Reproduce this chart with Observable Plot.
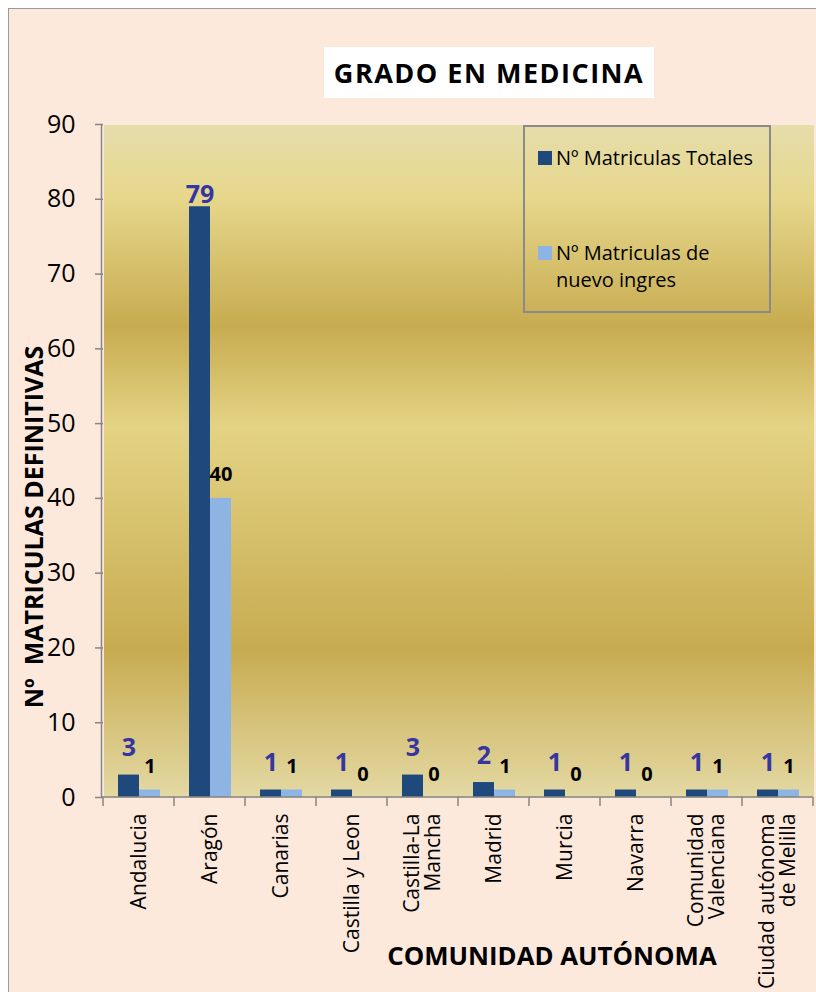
<!DOCTYPE html>
<html>
<head>
<meta charset="utf-8">
<script src="https://cdn.jsdelivr.net/npm/d3@7"></script>
<script src="https://cdn.jsdelivr.net/npm/@observablehq/plot@0.6"></script>
<style>
  html, body { margin: 0; padding: 0; background: #ffffff; overflow: hidden; width: 816px; height: 992px; }
  #frame { position: absolute; left: 8px; top: 8px; width: 808px; height: 984px; box-sizing: border-box;
           background: #fde9dc; border-left: 1.5px solid #9a9a9a; border-top: 1.5px solid #9a9a9a; }
  #chart { position: absolute; left: 0; top: 0; }
  .ov { position: absolute; font-family: "Open Sans", sans-serif; color: #000; white-space: pre; }
  #title { left: 324px; top: 47px; width: 330px; height: 51px; background: #fff; text-align: center;
           font-weight: bold; font-size: 27px; letter-spacing: 1.5px; line-height: 51px; }
  #ylabel { left: 33px; top: 527px; transform: translate(-50%, -50%) rotate(-90deg);
            font-weight: bold; font-size: 25px; line-height: 34px; }
  #xlabel { left: 552px; top: 938px; transform: translateX(-50%); font-weight: bold; font-size: 25.8px; line-height: 35px; }
  #legend { left: 523px; top: 125px; width: 248px; height: 188px; box-sizing: border-box; border: 2px solid #8a8a8a; }
  #legend .sw { position: absolute; width: 14px; height: 14px; }
  #legend .lt { position: absolute; left: 31px; font-size: 20px; line-height: 27px; font-family: "Open Sans", sans-serif; white-space: pre; }
</style>
</head>
<body>
<div id="frame"></div>
<div id="chart"></div>
<div class="ov" id="title"></div>
<div class="ov" id="ylabel"></div>
<div class="ov" id="xlabel"></div>
<div class="ov" id="legend"></div>
<script>
// ---- Data ----
const categories = ["Andalucia", "Aragón", "Canarias", "Castilla y Leon", "Castilla-La Mancha",
  "Madrid", "Murcia", "Navarra", "Comunidad Valenciana", "Ciudad autónoma de Melilla"];
const tickLabels = ["Andalucia", "Aragón", "Canarias", "Castilla y Leon", "Castilla-La\nMancha",
  "Madrid", "Murcia", "Navarra", "Comunidad\nValenciana", "Ciudad autónoma\nde Melilla"];
const totales = [3, 79, 1, 1, 3, 2, 1, 1, 1, 1];
const nuevos = [1, 40, 1, 0, 0, 1, 0, 0, 1, 1];
const series = ["Nº Matriculas Totales", "Nº Matriculas de nuevo ingres"];
const legendLabels = ["Nº Matriculas Totales", "Nº Matriculas de\nnuevo ingres"];
const seriesColors = ["#1f497d", "#8db4e2"];
const yTicks = [0, 10, 20, 30, 40, 50, 60, 70, 80, 90];
const title = "GRADO EN MEDICINA";
const yTitle = "Nº  MATRICULAS DEFINITIVAS";
const xTitle = "COMUNIDAD AUTÓNOMA";

// ---- Table ----
const rows = categories.flatMap((c, i) => [
  {cat: c, serie: series[0], value: totales[i]},
  {cat: c, serie: series[1], value: nuevos[i]}
]);

const axisGrey = "#868686";

const chart = Plot.plot({
  width: 816,
  height: 992,
  marginLeft: 102,
  marginRight: 2,
  marginTop: 124,
  marginBottom: 195,
  style: {background: "transparent", fontFamily: "Open Sans, sans-serif", overflow: "visible", color: "#000"},
  fx: {domain: categories, padding: 0, label: null},
  x: {domain: series, paddingInner: 0, paddingOuter: 0.69, axis: null},
  y: {domain: [0, 90], nice: false, label: null},
  color: {domain: series, range: seriesColors},
  marks: [
    Plot.frame({fill: "url(#bgGrad)", stroke: "none", shapeRendering: "crispEdges"}),
    Plot.barY(rows, {fx: "cat", x: "serie", y: "value", fill: "serie"}),
    Plot.text(rows.filter(d => d.serie === series[0] && d.value < 50), {
      fx: "cat", x: "serie", y: "value", text: d => String(d.value),
      lineAnchor: "bottom", dy: -19, fill: "#3636a2", fontWeight: "bold", fontSize: 25
    }),
    Plot.text(rows.filter(d => d.serie === series[0] && d.value >= 50), {
      fx: "cat", x: "serie", y: "value", text: d => String(d.value),
      lineAnchor: "bottom", dy: -4, fill: "#3636a2", fontWeight: "bold", fontSize: 25
    }),
    Plot.text(rows.filter(d => d.serie === series[1]), {
      fx: "cat", x: "serie", y: "value", text: d => String(d.value),
      lineAnchor: "bottom", dy: -17, fill: "#000", fontWeight: "bold", fontSize: 20
    }),
    Plot.axisY({ticks: yTicks, tickSize: 8, tickPadding: 20, fontSize: 25, label: null,
      stroke: axisGrey, strokeWidth: 1.5, fill: "#000"}),
    Plot.axisFx({anchor: "bottom", tickRotate: -90, tickSize: 0, tickPadding: 16, fontSize: 21, label: null,
      fill: "#000", tickFormat: d => tickLabels[categories.indexOf(d)]})
  ]
});

document.getElementById("chart").appendChild(chart);

// gradient definition used by the frame fill
const svg = d3.select(chart);
const defs = svg.insert("defs", ":first-child");
const grad = defs.append("linearGradient").attr("id", "bgGrad")
  .attr("x1", 0).attr("y1", 0).attr("x2", 0).attr("y2", 1);
[[0, "#e6ddab"], [0.11, "#e6d78b"], [0.30, "#c7ab50"], [0.45, "#e4d384"], [0.78, "#c7ab50"], [1, "#e4d9a4"]]
  .forEach(([o, c]) => grad.append("stop").attr("offset", o).attr("stop-color", c));

// axis lines and category-boundary ticks, from the chart's own scales
const fx = chart.scale("fx");
const ys = chart.scale("y");
const y0 = ys.apply(0), yTop = ys.apply(90);
const edges = categories.map(c => fx.apply(c));
edges.push(fx.apply(categories[categories.length - 1]) + fx.bandwidth);
const g = svg.append("g").attr("stroke", axisGrey).attr("stroke-width", 1.5);
g.append("line").attr("x1", edges[0] - 1.5).attr("x2", edges[0] - 1.5).attr("y1", yTop).attr("y2", y0 + 0.75);
g.append("line").attr("x1", edges[0] - 1.5).attr("x2", edges[edges.length - 1]).attr("y1", y0).attr("y2", y0);
edges.forEach(e => g.append("line").attr("x1", e).attr("x2", e).attr("y1", y0).attr("y2", y0 + 9));

// overlays
document.getElementById("title").textContent = title;
document.getElementById("ylabel").textContent = yTitle;
document.getElementById("xlabel").textContent = xTitle;
const leg = document.getElementById("legend");
const swTops = [24, 119];
const txtTops = [17, 112];
series.forEach((s, i) => {
  const sw = document.createElement("div");
  sw.className = "sw";
  sw.style.left = "13px";
  sw.style.top = swTops[i] + "px";
  sw.style.background = seriesColors[i];
  leg.appendChild(sw);
  const t = document.createElement("div");
  t.className = "lt";
  t.style.top = txtTops[i] + "px";
  t.textContent = legendLabels[i];
  leg.appendChild(t);
});
</script>
</body>
</html>
